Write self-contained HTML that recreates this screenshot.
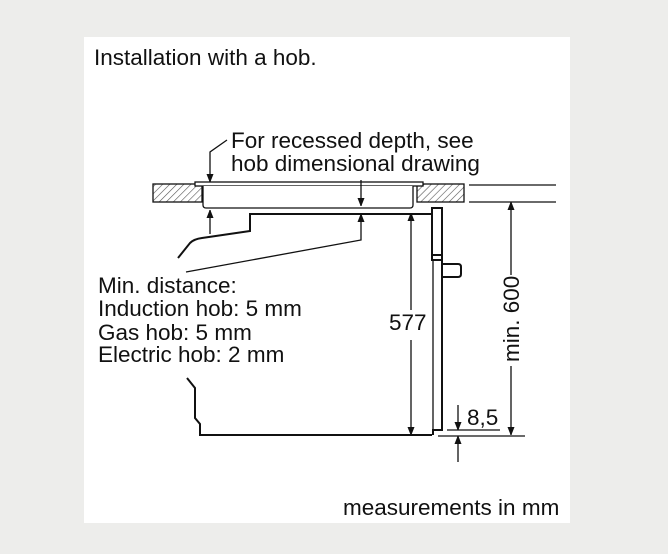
<!DOCTYPE html>
<html><head><style>
html,body{margin:0;padding:0;background:#ededeb;}
svg{display:block;}
text{font-family:"Liberation Sans",Arial,sans-serif;fill:#111;}
</style></head><body>
<svg width="668" height="554" viewBox="0 0 668 554" xmlns="http://www.w3.org/2000/svg">
<defs>
<pattern id="h" width="5" height="5" patternUnits="userSpaceOnUse" patternTransform="rotate(45)">
<rect width="5" height="5" fill="#fff"/><line x1="0" y1="0" x2="0" y2="5" stroke="#555" stroke-width="1.2"/>
</pattern>
<marker id="a" markerWidth="8" markerHeight="12" refX="8" refY="4" orient="auto" markerUnits="userSpaceOnUse">
<path d="M0,0.5 L9,4 L0,7.5 Z" fill="#111"/></marker>
</defs>
<rect x="84" y="37" width="486" height="486" fill="#fff"/>
<text x="94" y="65" font-size="22.5">Installation with a hob.</text>
<text x="231" y="148" font-size="22.5">For recessed depth, see</text>
<text x="231" y="171" font-size="22.5">hob dimensional drawing</text>
<g stroke="#111" fill="none" stroke-width="1.3">
<rect x="153" y="184" width="49" height="18" fill="url(#h)"/>
<rect x="417" y="184" width="47" height="18" fill="url(#h)"/>
<rect x="195" y="182" width="228" height="4" fill="#fff"/>
<path d="M203,186 V205 Q203,208 206,208 H410 Q413,208 413,205 V186" fill="#fff"/>
<line x1="469" y1="185" x2="556" y2="185"/>
<line x1="469" y1="202" x2="556" y2="202"/>
<path d="M227,140 L210,152 V182" marker-end="url(#a)"/>
<line x1="361" y1="180" x2="361" y2="206" marker-end="url(#a)"/>
<line x1="210" y1="234" x2="210" y2="210" marker-end="url(#a)"/>
<path d="M186,272 L361,240 V214" marker-end="url(#a)"/>
<path d="M178,258 L190,243 Q194,239 202,238 L250,231 V214 H432" stroke-width="2"/>
<path d="M187,378 L195,388 V418 L200,424 V435 H432" stroke-width="2"/>
<rect x="432" y="208" width="10" height="47" stroke-width="2"/>
<path d="M432,255 V260 H442" stroke-width="2"/>
<line x1="433" y1="260" x2="433" y2="430"/>
<path d="M442,255 V430 H433 V435" stroke-width="2"/>
<path d="M442,264 H458 Q461,264 461,267 V274 Q461,277 458,277 H442" stroke-width="2"/>
<line x1="411" y1="310" x2="411" y2="213" marker-end="url(#a)"/>
<line x1="411" y1="340" x2="411" y2="435" marker-end="url(#a)"/>
<line x1="511" y1="275" x2="511" y2="202" marker-end="url(#a)"/>
<line x1="511" y1="366" x2="511" y2="435" marker-end="url(#a)"/>
<line x1="438" y1="436" x2="525" y2="436"/>
<line x1="447" y1="430" x2="500" y2="430"/>
<line x1="458" y1="405" x2="458" y2="430" marker-end="url(#a)"/>
<line x1="458" y1="462" x2="458" y2="436" marker-end="url(#a)"/>
</g>
<text x="98" y="293" font-size="22.5">Min. distance:</text>
<text x="98" y="316" font-size="22.5">Induction hob: 5 mm</text>
<text x="98" y="340" font-size="22.5">Gas hob: 5 mm</text>
<text x="98" y="362" font-size="22.5">Electric hob: 2 mm</text>
<text x="389" y="330" font-size="22.5">577</text>
<text x="467" y="425" font-size="22.5">8,5</text>
<text transform="translate(519,362) rotate(-90)" font-size="22.5">min. 600</text>
<text x="343" y="515" font-size="22.5">measurements in mm</text>
</svg>
</body></html>
